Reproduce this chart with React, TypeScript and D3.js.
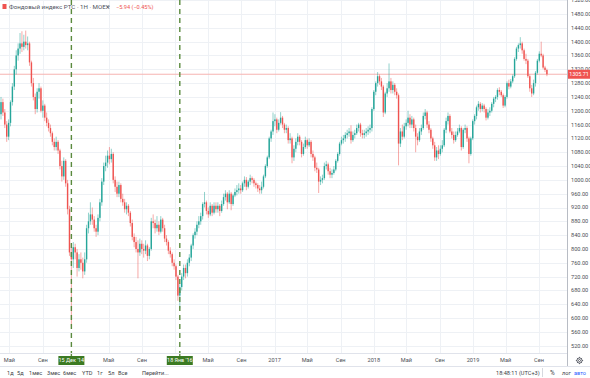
import React from "react";
import * as d3 from "d3";

const W = 590;
const H = 378;
const FONT = "Roboto, 'Noto Sans', sans-serif";

// weekly candles [open, high, low, close], first bar = week of 2014-03-31
const firstWeek = "2014-03-31";
const ohlc2014: number[][] = [
  [1190,1240,1175,1225],[1225,1235,1185,1195],[1195,1205,1150,1160],[1160,1170,1110,1125],
  [1125,1175,1115,1165],[1165,1230,1155,1225],[1225,1280,1215,1270],[1270,1330,1260,1320],
  [1320,1375,1305,1360],[1360,1395,1345,1380],[1380,1425,1365,1395],[1395,1430,1370,1385],
  [1385,1420,1375,1400],[1400,1432,1380,1390],[1390,1415,1375,1395],[1395,1400,1330,1340],
  [1340,1345,1270,1280],[1280,1295,1230,1240],[1240,1250,1190,1205],[1205,1265,1195,1255],
  [1255,1280,1235,1265],[1265,1270,1195,1200],[1200,1230,1180,1215],[1215,1220,1170,1180],
  [1180,1195,1155,1165],[1165,1175,1140,1150],[1150,1160,1125,1135],[1135,1140,1100,1110],
  [1110,1120,1085,1095],[1095,1125,1085,1110],[1110,1115,1075,1085],[1085,1090,1030,1040],
  [1040,1055,995,1010],[1010,1065,1000,1055],[1055,1060,980,990],[990,1000,900,915],
  [915,925,780,790],[790,815,578,770],[770,820,745,805],[805,815,770,790],
];
const ohlc2015: number[][] = [
  [790,800,720,745],[745,785,735,770],[770,790,740,760],[760,775,715,735],
  [735,790,725,770],[770,870,760,860],[860,905,845,880],[880,935,870,900],
  [900,920,870,885],[885,895,850,860],[860,870,835,850],[850,900,840,890],
  [890,945,880,935],[935,1005,925,995],[995,1050,985,1040],[1040,1070,1025,1050],
  [1050,1085,1035,1070],[1070,1095,1045,1060],[1060,1090,1050,1075],[1075,1080,990,1000],
  [1000,1010,965,980],[980,995,950,960],[960,995,950,985],[985,990,935,945],
  [945,960,925,935],[935,945,905,915],[915,935,900,925],[925,930,895,905],
  [905,910,865,875],[875,885,825,835],[835,845,805,820],[820,835,790,800],
  [800,825,715,790],[790,830,780,815],[815,825,785,800],[800,815,775,795],
  [795,825,785,810],[810,815,765,780],[780,805,770,800],[800,890,795,880],
  [880,900,860,875],[875,885,845,860],[860,895,850,870],[870,880,840,850],
  [850,895,845,885],[885,890,850,860],[860,870,820,830],[830,840,810,820],
  [820,825,785,795],[795,805,775,785],[785,790,750,760],[760,770,740,750],
];
const ohlc2016: number[][] = [
  [750,755,710,720],[720,725,650,665],[665,700,628,690],[690,730,680,720],
  [720,755,710,745],[745,755,715,730],[730,770,720,760],[760,785,750,775],
  [775,815,765,810],[810,845,800,840],[840,860,830,850],[850,880,840,870],
  [870,895,860,880],[880,905,870,895],[895,935,885,930],[930,965,920,935],
  [935,940,900,910],[910,920,890,900],[900,935,895,925],[925,930,895,905],
  [905,935,900,925],[925,935,905,915],[915,935,905,925],[925,930,895,910],
  [910,940,905,930],[930,960,925,950],[950,970,940,960],[960,965,915,935],
  [935,970,930,960],[960,965,912,930],[930,960,925,955],[955,975,950,965],
  [965,985,955,970],[970,990,960,975],[975,985,960,970],[970,995,965,990],
  [990,1010,980,1000],[1000,1008,970,980],[980,1000,975,995],[995,1015,985,1005],
  [1005,1010,990,1000],[1000,1005,980,990],[990,995,975,985],[985,990,965,975],
  [975,985,960,970],[970,995,960,980],[980,1015,975,1010],[1010,1045,1005,1040],
  [1040,1070,1035,1065],[1065,1125,1060,1120],[1120,1145,1110,1140],[1140,1195,1130,1170],
];
const ohlc2017: number[][] = [
  [1170,1190,1155,1175],[1175,1180,1135,1145],[1145,1175,1140,1165],[1165,1196,1160,1180],
  [1180,1185,1150,1160],[1160,1165,1135,1145],[1145,1160,1135,1150],[1150,1155,1105,1115],
  [1115,1135,1105,1120],[1120,1125,1048,1065],[1065,1100,1055,1090],[1090,1120,1080,1110],
  [1110,1135,1100,1125],[1125,1130,1100,1110],[1110,1115,1065,1075],[1075,1105,1070,1095],
  [1095,1125,1090,1115],[1115,1120,1090,1100],[1100,1120,1095,1110],[1110,1115,1065,1075],
  [1075,1085,1055,1065],[1065,1070,1025,1035],[1035,1050,1020,1030],[1030,1035,962,995],
  [995,1010,985,1000],[1000,1015,990,1005],[1005,1050,1000,1040],[1040,1055,1030,1045],
  [1045,1050,1015,1025],[1025,1035,1005,1015],[1015,1030,1005,1020],[1020,1040,1015,1030],
  [1030,1060,1025,1055],[1055,1080,1050,1075],[1075,1110,1070,1105],[1105,1125,1100,1115],
  [1115,1130,1105,1120],[1120,1138,1110,1130],[1130,1145,1120,1135],[1135,1150,1125,1140],
  [1140,1158,1105,1115],[1115,1140,1110,1130],[1130,1145,1120,1135],[1135,1160,1130,1150],
  [1150,1165,1140,1160],[1160,1165,1125,1135],[1135,1145,1120,1130],[1130,1145,1120,1135],
  [1135,1150,1125,1140],[1140,1155,1130,1145],[1145,1160,1135,1150],[1150,1210,1140,1205],
];
const ohlc2018: number[][] = [
  [1205,1260,1200,1255],[1255,1285,1245,1280],[1280,1312,1270,1300],[1300,1305,1275,1285],
  [1285,1295,1260,1270],[1270,1275,1182,1195],[1195,1255,1190,1250],[1250,1280,1240,1265],
  [1265,1337,1255,1285],[1285,1295,1250,1260],[1260,1285,1250,1275],[1275,1280,1245,1255],
  [1255,1265,1235,1245],[1245,1250,1042,1105],[1105,1150,1095,1140],[1140,1160,1115,1125],
  [1125,1165,1120,1155],[1155,1175,1145,1165],[1165,1200,1155,1180],[1180,1190,1150,1160],
  [1160,1185,1150,1175],[1175,1180,1140,1150],[1150,1160,1080,1125],[1125,1135,1100,1115],
  [1115,1150,1110,1140],[1140,1160,1130,1150],[1150,1195,1145,1185],[1185,1205,1175,1195],
  [1195,1200,1150,1160],[1160,1170,1135,1145],[1145,1150,1110,1120],[1120,1125,1090,1100],
  [1100,1110,1055,1065],[1065,1095,1055,1085],[1085,1100,1060,1075],[1075,1100,1070,1090],
  [1090,1115,1080,1100],[1100,1150,1095,1145],[1145,1180,1135,1170],[1170,1195,1160,1185],
  [1185,1190,1135,1140],[1140,1150,1120,1130],[1130,1140,1105,1115],[1115,1140,1110,1130],
  [1130,1150,1125,1140],[1140,1160,1135,1150],[1150,1155,1085,1095],[1095,1150,1090,1145],
  [1145,1160,1135,1150],[1150,1155,1110,1120],[1120,1125,1048,1075],[1075,1125,1070,1120],
];
const ohlc2019: number[][] = [
  [1120,1175,1115,1170],[1170,1190,1160,1185],[1185,1215,1175,1210],[1210,1228,1200,1220],
  [1220,1225,1195,1205],[1205,1222,1198,1215],[1215,1220,1195,1205],[1205,1210,1172,1180],
  [1180,1205,1175,1195],[1195,1210,1185,1200],[1200,1225,1195,1220],[1220,1240,1210,1235],
  [1235,1245,1225,1240],[1240,1265,1232,1260],[1260,1268,1245,1255],[1255,1260,1240,1245],
  [1245,1250,1208,1215],[1215,1245,1210,1240],[1240,1285,1235,1280],[1280,1290,1262,1270],
  [1270,1292,1265,1285],[1285,1305,1280,1300],[1300,1355,1295,1350],[1350,1385,1345,1380],
  [1380,1395,1370,1390],[1390,1413,1380,1395],[1395,1400,1365,1375],[1375,1380,1345,1350],
  [1350,1365,1335,1345],[1345,1350,1295,1300],[1300,1305,1255,1265],[1265,1275,1240,1250],
  [1250,1290,1245,1280],[1280,1315,1270,1310],[1310,1350,1305,1345],[1345,1372,1340,1365],
  [1365,1400,1355,1360],[1360,1365,1320,1325],[1325,1330,1312,1318],[1318,1322,1300,1305.71],
];

const lastPrice = 1305.71;
const yTickValues = [520,560,600,640,680,720,760,800,840,880,920,960,1000,1040,1080,1120,1160,1200,1240,1280,1320,1360,1400,1440,1480,1520];
const timeTickDates = ["2014-05-01","2014-09-01","2015-01-01","2015-05-01","2015-09-01","2016-01-01","2016-05-01","2016-09-01","2017-01-01","2017-05-01","2017-09-01","2018-01-01","2018-05-01","2018-09-01","2019-01-01","2019-05-01","2019-09-01"];
const timeTickLabels = ["Май","Сен","","Май","Сен","","Май","Сен","2017","Май","Сен","2018","Май","Сен","2019","Май","Сен"];
const timeTickGrid = [true,true,false,true,true,true,true,true,true,true,true,true,true,true,true,true,true];
const markerDates = ["2014-12-15","2016-01-18"];
const markerLabels = ["15 Дек '14","18 Янв '16"];
const toolbarLeft = ["1д","5д","1мес","3мес","6мес","YTD","1г","5л","Все","Перейти..."];
const toolbarLeftX = [7,17,29,47,63,82,97,108,118,142];

const parse = d3.timeParse("%Y-%m-%d");

export default function App() {
  const plotRight = 567;
  const plotBottom = 353;
  const x = d3.scaleTime().domain([new Date(2015, 0, 1), new Date(2019, 0, 1)]).range([76, 473]);
  const y = d3.scaleLinear().domain([520, 1520]).range([345.7, 0.2]);
  const start = parse(firstWeek) as Date;
  const all = [...ohlc2014, ...ohlc2015, ...ohlc2016, ...ohlc2017, ...ohlc2018, ...ohlc2019];
  const candles = all.map((d, i) => ({
    date: d3.timeDay.offset(start, i * 7),
    o: d[0], h: d[1], l: d[2], c: d[3],
  }));
  const fmt = d3.format(".2f");
  const up = "#26a69a";
  const down = "#ef5350";
  const grid = "#eef1f5";
  const axisText = "#4c4f57";

  return (
    <svg width={W} height={H} style={{ position: "absolute", left: 0, top: 0, background: "#fff" }} fontFamily={FONT}>
      <rect x={0} y={0} width={W} height={H} fill="#fff" />
      {yTickValues.map((v) => (
        <line key={"hg" + v} x1={0} x2={plotRight} y1={Math.round(y(v)) + 0.5} y2={Math.round(y(v)) + 0.5} stroke={grid} strokeWidth={1} />
      ))}
      {timeTickDates.map((s, i) =>
        timeTickGrid[i] ? (
          <line key={"vg" + s} x1={Math.round(x(parse(s) as Date)) + 0.5} x2={Math.round(x(parse(s) as Date)) + 0.5} y1={0} y2={plotBottom} stroke={grid} strokeWidth={1} />
        ) : null
      )}
      <line x1={0} x2={plotRight} y1={y(lastPrice)} y2={y(lastPrice)} stroke="#f6b3b1" strokeWidth={1} />
      {candles.map((d, i) => {
        const cx = x(d.date);
        const col = d.c >= d.o ? up : down;
        const top = y(Math.max(d.o, d.c));
        const bot = y(Math.min(d.o, d.c));
        return (
          <g key={"c" + i}>
            <line x1={cx} x2={cx} y1={y(d.h)} y2={y(d.l)} stroke={col} strokeWidth={1} strokeOpacity={0.5} />
            <rect x={cx - 0.7} y={top} width={1.4} height={Math.max(0.8, bot - top)} fill={col} />
          </g>
        );
      })}
      {markerDates.map((s) => {
        const mx = x(parse(s) as Date);
        return <line key={"m" + s} x1={mx} x2={mx} y1={0} y2={plotBottom + 3} stroke="#5a8a3e" strokeWidth={1.4} strokeDasharray="5,4" />;
      })}
      <rect x={2.5} y={4} width={4} height={5} fill={down} />
      <text x={9} y={8.6} fontSize={6.2} fill="#50535e">Фондовый индекс РТС · 1Н · MOEX</text>
      <path d="M106.5,6 l1.5,1.6 l1.5,-1.6" fill="none" stroke="#50535e" strokeWidth={0.7} />
      <text x={116} y={8.6} fontSize={5.6} fill={down}>−5.94 (−0.45%)</text>
      <line x1={plotRight + 0.5} x2={plotRight + 0.5} y1={0} y2={366} stroke="#b8bcc4" strokeWidth={1} />
      {yTickValues.map((v) => (
        <text key={"yl" + v} x={571} y={y(v)} dy="0.35em" fontSize={5.6} fill={axisText}>{fmt(v)}</text>
      ))}
      <rect x={568} y={y(lastPrice) - 4.5} width={22} height={9} fill={down} />
      <text x={579} y={y(lastPrice)} dy="0.35em" textAnchor="middle" fontSize={5.4} fill="#fff">{fmt(lastPrice)}</text>
      <line x1={0} x2={plotRight} y1={plotBottom + 0.5} y2={plotBottom + 0.5} stroke="#e0e3eb" strokeWidth={1} />
      {timeTickDates.map((s, i) =>
        timeTickLabels[i] ? (
          <text key={"xl" + s} x={x(parse(s) as Date)} y={360.5} dy="0.35em" textAnchor="middle" fontSize={5.6} fill={axisText}>{timeTickLabels[i]}</text>
        ) : null
      )}
      {markerDates.map((s, i) => {
        const mx = x(parse(s) as Date);
        return (
          <g key={"ml" + s}>
            <rect x={mx - 13} y={356} width={26} height={9} fill="#3b7a22" />
            <text x={mx} y={360.5} dy="0.35em" textAnchor="middle" fontSize={5.4} fill="#fff">{markerLabels[i]}</text>
          </g>
        );
      })}
      <g transform="translate(579.5,360.5)" fill="none" stroke="#50535e" strokeWidth={0.9}>
        <circle r={2.6} />
        <circle r={1} />
        {[0, 45, 90, 135, 180, 225, 270, 315].map((a) => (
          <line key={"g" + a} x1={0} y1={-2.6} x2={0} y2={-3.6} transform={`rotate(${a})`} />
        ))}
      </g>
      <line x1={0} x2={W} y1={366.5} y2={366.5} stroke="#e0e3eb" strokeWidth={1} />
      {toolbarLeft.map((t, i) => (
        <text key={"tb" + t} x={toolbarLeftX[i]} y={374.5} fontSize={5.6} fill="#3a3d45">{t}</text>
      ))}
      <text x={496} y={374.5} fontSize={5.6} fill="#3a3d45">18:48:11 (UTC+3)</text>
      <line x1={542.5} x2={542.5} y1={368} y2={377} stroke="#d6d9df" strokeWidth={1} />
      <text x={550} y={374.5} fontSize={6.4} fill="#3a3d45">%</text>
      <text x={562} y={374.5} fontSize={5.6} fill="#3a3d45">лог</text>
      <text x={574} y={374.5} fontSize={5.6} fill="#2962ff">авто</text>
    </svg>
  );
}
